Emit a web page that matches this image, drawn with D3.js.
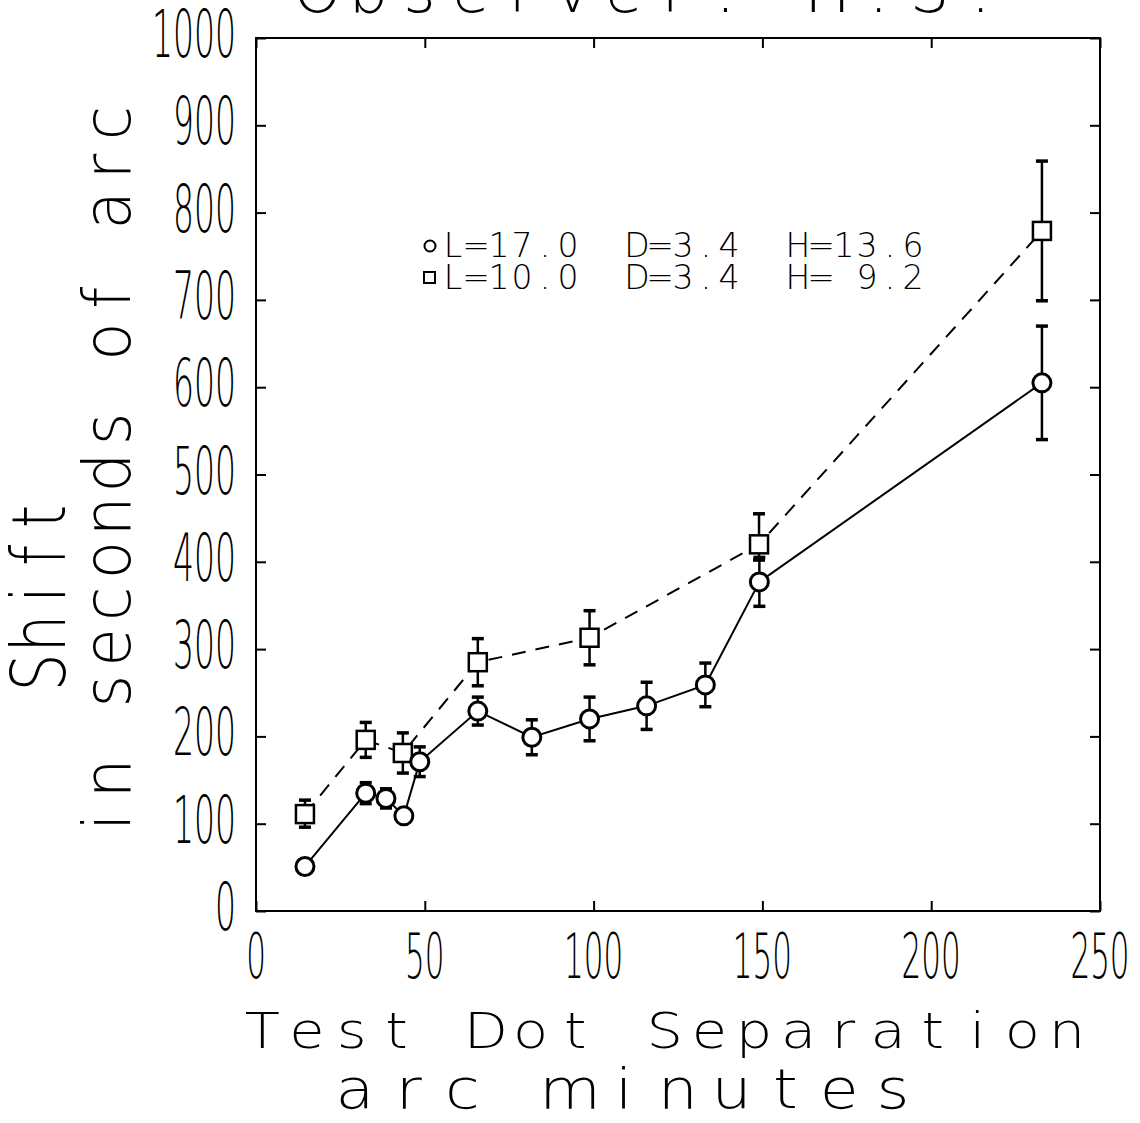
<!DOCTYPE html>
<html>
<head>
<meta charset="utf-8">
<script src="https://d3js.org/d3.v7.min.js"></script>
<style>
  body { margin: 0; background: white; }
  text { font-family: "DejaVu Sans", sans-serif; font-weight: 200; fill: black; white-space: pre; }
</style>
</head>
<body>
<div id="chart"></div>
<script>

// data
var sepCircle = [14.5, 32.5, 38.5, 43.8, 48.5, 65.7, 81.7, 98.8, 115.7, 133.1, 149.1, 232.8]
var shiftCircle = [51, 135, 129, 109, 171, 229, 199, 220, 235, 259, 377, 605]
var errCircle = [6, 12, 11, 5, 17, 16, 20, 25, 27, 25, 28, 65]

var sepSquare = [14.5, 32.5, 43.5, 65.7, 98.8, 149, 232.8]
var shiftSquare = [111, 196, 181, 285, 313, 420, 779]
var errSquareUp = [16, 20, 23, 27, 31, 35, 80]
var errSquareDown = [15, 20, 23, 27, 31, 18, 80]

var xTicks = [0, 50, 100, 150, 200, 250]
var yTicks = [0, 100, 200, 300, 400, 500, 600, 700, 800, 900, 1000]

var legendRows = [
  "L=17.0  D=3.4  H=13.6",
  "L=10.0  D=3.4  H= 9.2"
]

var width = 1140
    height = 1123
    margin = {left: 256, top: 38, right: 40, bottom: 212}

var svg = d3.select("#chart")
  .append("svg")
    .attr("width", width)
    .attr("height", height)

var x = d3.scaleLinear().domain([0, 250]).range([margin.left, width - margin.right])
var y = d3.scaleLinear().domain([0, 1000]).range([height - margin.bottom, margin.top])

// frame
svg.append("rect")
  .attr("x", x(0))
  .attr("y", y(1000))
  .attr("width", x(250) - x(0))
  .attr("height", y(0) - y(1000))
  .attr("fill", "none")
  .attr("stroke", "black")
  .attr("stroke-width", 2)

// inward ticks on all four sides
var tick = 10
svg.append("g")
  .attr("transform", "translate(0," + y(0) + ")")
  .call(d3.axisTop(x).tickValues(xTicks).tickSize(tick).tickFormat(""))
svg.append("g")
  .attr("transform", "translate(0," + y(1000) + ")")
  .call(d3.axisBottom(x).tickValues(xTicks).tickSize(tick).tickFormat(""))
svg.append("g")
  .attr("transform", "translate(" + x(0) + ",0)")
  .call(d3.axisRight(y).tickValues(yTicks).tickSize(tick).tickFormat(""))
svg.append("g")
  .attr("transform", "translate(" + x(250) + ",0)")
  .call(d3.axisLeft(y).tickValues(yTicks).tickSize(tick).tickFormat(""))
svg.selectAll(".domain").remove()
svg.selectAll(".tick line").attr("stroke", "black").attr("stroke-width", 2)

// tall narrow tick labels, squeezed horizontally
svg.selectAll("yLabels")
  .data(yTicks)
  .enter()
  .append("text")
    .attr("transform", function(d) { return "translate(236," + (y(d) + 19) + ") scale(0.5,1)" })
    .attr("text-anchor", "end")
    .style("font-size", "66px")
    .text(function(d) { return d })

svg.selectAll("xLabels")
  .data(xTicks)
  .enter()
  .append("text")
    .attr("transform", function(d) { return "translate(" + x(d) + ",978) scale(0.5,1)" })
    .attr("text-anchor", "middle")
    .style("font-size", "62px")
    .text(function(d) { return d })

// plotter style text: every character centred in a fixed-width cell
function monoText(tx, ty, rot, sx, size, cell, str) {
  var local = cell / sx
  var chars = str.split("")
  var xs = chars.map(function(c, i) {
    var tmp = svg.append("text").style("font-size", size + "px").text(c === " " ? "n" : c)
    var w = tmp.node().getComputedTextLength()
    tmp.remove()
    return i * local + (local - w) / 2
  })
  svg.append("text")
    .attr("transform", "translate(" + tx + "," + ty + ") rotate(" + rot + ") scale(" + sx + ",1)")
    .attr("x", xs.join(" "))
    .style("font-size", size + "px")
    .text(str)
}

// title, clipped by the top of the page
monoText(292, 12, 0, 1, 62, 51, "Observer: H.S.")

// axis titles
monoText(240, 1048, 0, 1.15, 50, 44.7, "Test Dot Separation")
monoText(328, 1108, 0, 1.15, 55, 53.8, "arc minutes")
monoText(65, 692, -90, 0.8, 75, 39, "Shift")
monoText(130, 844, -90, 0.95, 66, 43.7, "in seconds of arc")

// legend
var legendY = [257, 289]
legendRows.forEach(function(row, i) {
  monoText(441.5, legendY[i], 0, 1, 33, 23, row)
})
svg.append("circle")
  .attr("cx", 430).attr("cy", 246).attr("r", 5.5)
  .attr("fill", "none").attr("stroke", "black").attr("stroke-width", 2)
svg.append("rect")
  .attr("x", 424).attr("y", 272).attr("width", 11).attr("height", 11)
  .attr("fill", "none").attr("stroke", "black").attr("stroke-width", 2)

var circleData = sepCircle.map(function(d, i) { return {x: d, y: shiftCircle[i], lo: errCircle[i], hi: errCircle[i]} })
var squareData = sepSquare.map(function(d, i) { return {x: d, y: shiftSquare[i], lo: errSquareDown[i], hi: errSquareUp[i]} })

var line = d3.line()
  .x(function(d) { return x(d.x) })
  .y(function(d) { return y(d.y) })

// connecting lines
svg.append("path")
  .datum(squareData)
  .attr("d", line)
  .attr("fill", "none")
  .attr("stroke", "black")
  .attr("stroke-width", 2)
  .attr("stroke-dasharray", "14,10")
svg.append("path")
  .datum(circleData)
  .attr("d", line)
  .attr("fill", "none")
  .attr("stroke", "black")
  .attr("stroke-width", 2)

// error bars with caps
function errorBars(data) {
  var g = svg.append("g")
  g.selectAll("bars")
    .data(data)
    .enter()
    .append("line")
      .attr("x1", function(d) { return x(d.x) })
      .attr("x2", function(d) { return x(d.x) })
      .attr("y1", function(d) { return y(d.y - d.lo) })
      .attr("y2", function(d) { return y(d.y + d.hi) })
      .attr("stroke", "black")
      .attr("stroke-width", 2.5)
  g.selectAll("capsTop")
    .data(data)
    .enter()
    .append("line")
      .attr("x1", function(d) { return x(d.x) - 6 })
      .attr("x2", function(d) { return x(d.x) + 6 })
      .attr("y1", function(d) { return y(d.y + d.hi) })
      .attr("y2", function(d) { return y(d.y + d.hi) })
      .attr("stroke", "black")
      .attr("stroke-width", 3.5)
  g.selectAll("capsBottom")
    .data(data)
    .enter()
    .append("line")
      .attr("x1", function(d) { return x(d.x) - 6 })
      .attr("x2", function(d) { return x(d.x) + 6 })
      .attr("y1", function(d) { return y(d.y - d.lo) })
      .attr("y2", function(d) { return y(d.y - d.lo) })
      .attr("stroke", "black")
      .attr("stroke-width", 3.5)
}
errorBars(squareData)
errorBars(circleData)

// hollow markers
svg.selectAll("squares")
  .data(squareData)
  .enter()
  .append("rect")
    .attr("x", function(d) { return x(d.x) - 9 })
    .attr("y", function(d) { return y(d.y) - 9 })
    .attr("width", 18)
    .attr("height", 18)
    .attr("fill", "white")
    .attr("stroke", "black")
    .attr("stroke-width", 2.5)

svg.selectAll("circles")
  .data(circleData)
  .enter()
  .append("circle")
    .attr("cx", function(d) { return x(d.x) })
    .attr("cy", function(d) { return y(d.y) })
    .attr("r", 9)
    .attr("fill", "white")
    .attr("stroke", "black")
    .attr("stroke-width", 3)

</script>
</body>
</html>
